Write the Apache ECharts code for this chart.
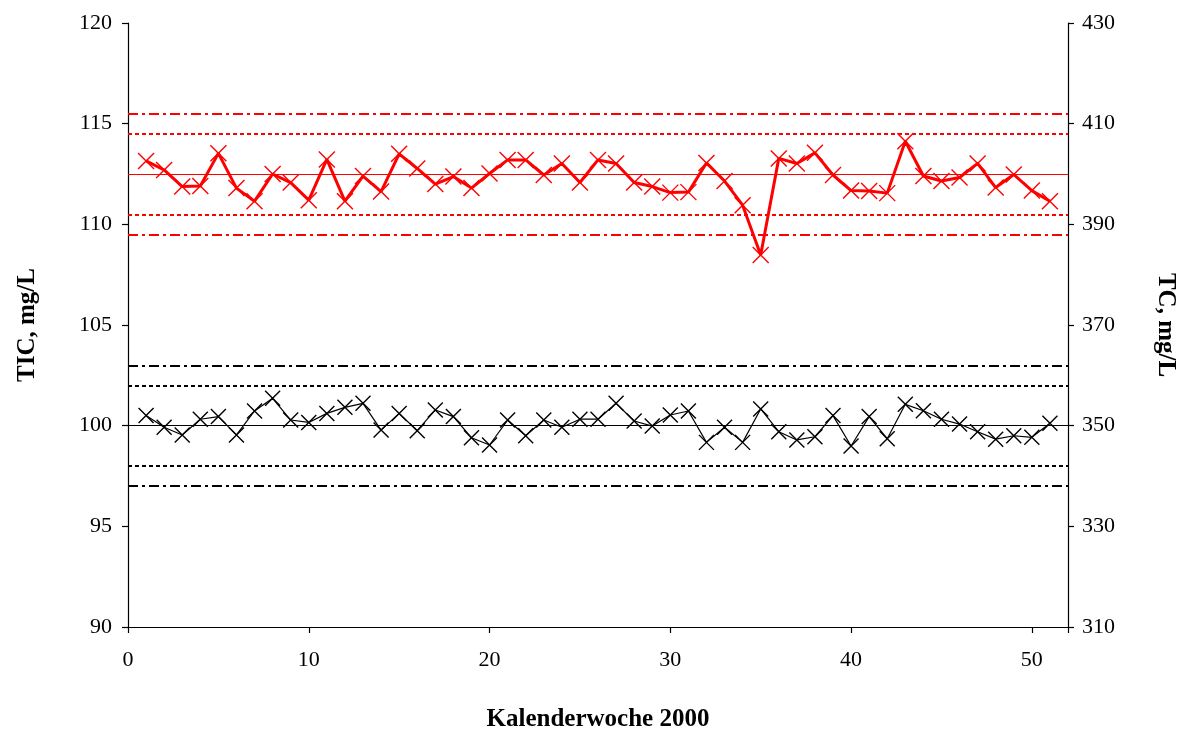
<!DOCTYPE html>
<html>
<head>
<meta charset="utf-8">
<script src="https://cdn.jsdelivr.net/npm/echarts@6/dist/echarts.min.js"></script>
<style>
  html, body { margin: 0; padding: 0; background: #fff; }
  #main { width: 1192px; height: 729px; }
</style>
</head>
<body>
<div id="main"></div>
<script>
// Kalenderwochen
var weeks = [];
for (var w = 1; w <= 51; w++) weeks.push(w);

// TIC (linke Achse), mg/L
var ticValues = [100.50, 99.92, 99.54, 100.32, 100.45, 99.54, 100.73, 101.36, 100.28, 100.16,
  100.61, 100.91, 101.11, 99.78, 100.61, 99.75, 100.78, 100.45, 99.40, 99.04,
  100.28, 99.50, 100.28, 99.92, 100.32, 100.32, 101.11, 100.23, 99.98, 100.53,
  100.73, 99.17, 99.92, 99.17, 100.83, 99.70, 99.29, 99.45, 100.50, 98.99,
  100.45, 99.35, 101.06, 100.74, 100.32, 100.08, 99.70, 99.33, 99.50, 99.42,
  100.12];

// TC (rechte Achse), mg/L
var tcValues = [402.6, 400.8, 397.5, 397.6, 404.1, 397.2, 394.6, 400.0, 398.3, 394.8,
  402.9, 394.6, 399.6, 396.5, 404.0, 401.1, 398.0, 399.5, 397.2, 400.1,
  402.8, 402.8, 399.8, 402.1, 398.3, 402.8, 402.1, 398.3, 397.5, 396.3,
  396.4, 402.2, 398.6, 393.8, 383.9, 403.1, 402.1, 404.2, 399.8, 396.7,
  396.6, 396.2, 406.5, 399.6, 398.6, 399.3, 402.1, 397.3, 399.9, 396.7,
  394.6];

// Kontrollgrenzen
var ticLimits = [103, 102, 100, 98, 97];      // Eingriff, Warn, Mitte, Warn, Eingriff
var tcLimits = [412, 408, 400, 392, 388];

var leftTicks = [90, 95, 100, 105, 110, 115, 120];
var rightTicks = [310, 330, 350, 370, 390, 410, 430];

var font = 'Liberation Serif';
var dashDot = [10, 4, 3, 4];
var dotted = [4, 3];
var cross = 'path://M0,0L10,10M10,0L0,10';

function pairs(xs, ys) {
  return xs.map(function (x, i) { return [x, ys[i]]; });
}

function limitLines(vals, color, axisKey) {
  var styles = [dashDot, dotted, 'solid', dotted, dashDot];
  return vals.map(function (v, i) {
    var d = {};
    d[axisKey] = v;
    d.lineStyle = {
      color: color,
      type: styles[i],
      width: i === 2 ? 1.2 : 2
    };
    return d;
  });
}

var chart = echarts.init(document.getElementById('main'));

var axisLine = { show: true, lineStyle: { color: '#000', width: 1.2 } };
var axisTick = { show: true, inside: false, length: 6, lineStyle: { color: '#000', width: 1.2 } };
var labelStyle = { color: '#000', fontFamily: font, fontSize: 22 };
var nameStyle = { color: '#000', fontFamily: font, fontSize: 25, fontWeight: 'bold' };

var option = {
  animation: false,
  backgroundColor: '#fff',
  grid: { left: 128, right: 124, top: 23, bottom: 102, outerBoundsMode: 'none', containLabel: false },
  xAxis: {
    type: 'value',
    min: 0,
    max: 52,
    interval: 10,
    name: 'Kalenderwoche 2000',
    nameLocation: 'middle',
    nameGap: 80,
    nameTextStyle: nameStyle,
    axisLine: { show: true, onZero: false, lineStyle: { color: '#000', width: 1.2 } },
    axisTick: axisTick,
    axisLabel: Object.assign({ margin: 22, formatter: function (v) { return v % 10 === 0 ? v : ''; } }, labelStyle),
    splitLine: { show: false }
  },
  yAxis: [{
    type: 'value',
    position: 'left',
    min: leftTicks[0],
    max: leftTicks[leftTicks.length - 1],
    interval: 5,
    name: 'TIC, mg/L',
    nameLocation: 'middle',
    nameGap: 88,
    nameTextStyle: nameStyle,
    axisLine: axisLine,
    axisTick: axisTick,
    axisLabel: Object.assign({ margin: 16 }, labelStyle),
    splitLine: { show: false }
  }, {
    type: 'value',
    position: 'right',
    min: rightTicks[0],
    max: rightTicks[rightTicks.length - 1],
    interval: 20,
    name: 'TC, mg/L',
    nameLocation: 'middle',
    nameRotate: -90,
    nameGap: 85,
    nameTextStyle: nameStyle,
    axisLine: axisLine,
    axisTick: axisTick,
    axisLabel: Object.assign({ margin: 14 }, labelStyle),
    splitLine: { show: false }
  }],
  series: [{
    name: 'TIC',
    type: 'line',
    yAxisIndex: 0,
    data: pairs(weeks, ticValues),
    symbol: cross,
    symbolSize: 15,
    lineStyle: { color: '#000', width: 1.2 },
    itemStyle: { color: '#000', borderColor: '#000', borderWidth: 1.4 },
    markLine: {
      silent: true,
      symbol: 'none',
      label: { show: false },
      data: limitLines(ticLimits, '#000', 'yAxis')
    },
    z: 3
  }, {
    name: 'TC',
    type: 'line',
    yAxisIndex: 1,
    data: pairs(weeks, tcValues),
    symbol: cross,
    symbolSize: 16,
    lineStyle: { color: '#ff0000', width: 3 },
    itemStyle: { color: '#ff0000', borderColor: '#ff0000', borderWidth: 1.4 },
    markLine: {
      silent: true,
      symbol: 'none',
      label: { show: false },
      data: limitLines(tcLimits, '#ff0000', 'yAxis')
    },
    z: 4
  }]
};

chart.setOption(option);
</script>
</body>
</html>
